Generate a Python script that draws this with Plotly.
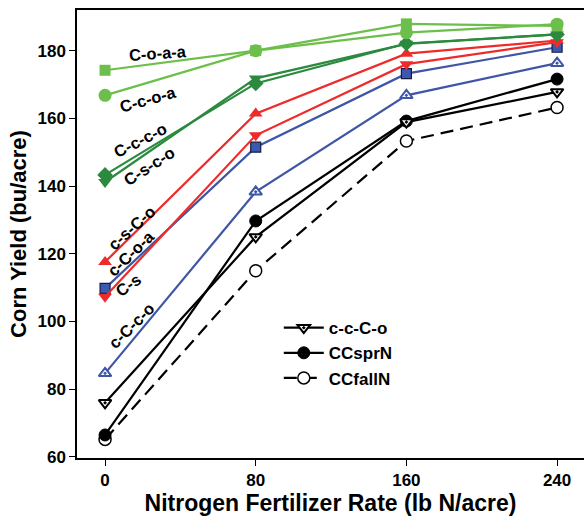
import plotly.graph_objects as go

x_rates = [0, 80, 160, 240]
x_ticks = [0, 80, 160, 240]
y_ticks = [60, 80, 100, 120, 140, 160, 180]

coaa = [174.2, 180.0, 187.9, 187.3]
ccoa = [166.8, 180.0, 185.3, 187.8]
cccco = [143.3, 170.3, 182.1, 184.8]
csco = [141.2, 171.8, 182.0, 184.8]
csCo = [117.6, 161.4, 179.1, 183.0]
cs = [107.3, 155.0, 176.0, 182.5]
cCoa = [109.8, 151.5, 173.2, 181.0]
cCco = [84.7, 138.3, 166.8, 176.3]
ccCo = [76.0, 125.0, 158.9, 167.8]
ccsprn = [66.5, 129.7, 159.2, 171.6]
ccfalln = [65.2, 115.0, 153.3, 163.2]

LG = "#6cbf4a"
DG = "#2b8a3e"
RED = "#ee2b2b"
BLUE = "#3f56a6"
FONT = "Liberation Sans, Arial, sans-serif"

series = [
    ("CCfallN", ccfalln, "black", "dash", dict(symbol="circle", size=12, color="white", line=dict(color="black", width=1.5)), True),
    ("CCsprN", ccsprn, "black", "solid", dict(symbol="circle", size=12, color="black", line=dict(color="black", width=1)), True),
    ("c-c-C-o", ccCo, "black", "solid", dict(symbol="triangle-down-dot", size=11, color="white", line=dict(color="black", width=2)), True),
    ("c-C-c-o", cCco, BLUE, "solid", dict(symbol="triangle-up-dot", size=11, color="white", line=dict(color=BLUE, width=2)), False),
    ("c-C-o-a", cCoa, BLUE, "solid", dict(symbol="square", size=10, color="#3a5ab2", line=dict(color="#1a1a40", width=1.2)), False),
    ("C-s", cs, RED, "solid", dict(symbol="triangle-down", size=12, color=RED), False),
    ("c-s-C-o", csCo, RED, "solid", dict(symbol="triangle-up", size=12, color=RED), False),
    ("C-s-c-o", csco, DG, "solid", dict(symbol="triangle-down", size=12, color=DG), False),
    ("C-c-c-o", cccco, DG, "solid", dict(symbol="diamond", size=12, color=DG), False),
    ("C-c-o-a", ccoa, LG, "solid", dict(symbol="circle", size=13, color=LG), False),
    ("C-o-a-a", coaa, LG, "solid", dict(symbol="square", size=11, color=LG), False),
]

fig = go.Figure()
for name, ys, col, dash, mk, leg in series:
    fig.add_trace(go.Scatter(
        x=x_rates, y=ys, mode="lines+markers", name="<b>" + name + "</b>",
        line=dict(color=col, width=2.2, dash=("13px,7px" if dash == "dash" else "solid")),
        marker=mk, showlegend=leg, cliponaxis=False,
    ))

labels = [
    ("C-o-a-a", 27.9, 179.3, -4),
    ("C-c-o-a", 23.0, 165.8, -16),
    ("C-c-c-o", 18.6, 153.5, -27),
    ("C-s-c-o", 23.4, 145.8, -33),
    ("c-s-C-o", 13.8, 127.7, -42),
    ("c-C-o-a", 13.8, 120.2, -44),
    ("C-s", 12.2, 110.7, -35),
    ("c-C-c-o", 14.3, 98.9, -45),
]
for txt, lx, ly, ang in labels:
    fig.add_annotation(x=lx, y=ly, text="<b>" + txt + "</b>", textangle=ang,
                       showarrow=False, font=dict(size=16.5, color="black", family=FONT))

fig.update_layout(
    width=584, height=520,
    margin=dict(l=77, r=0, t=10, b=62),
    plot_bgcolor="white", paper_bgcolor="white",
    font=dict(family=FONT, color="black"),
    legend=dict(
        x=0.398, y=0.33, xanchor="left", yanchor="top",
        traceorder="reversed", bgcolor="rgba(0,0,0,0)",
        font=dict(size=17, family=FONT),
        tracegroupgap=0, itemwidth=40,
    ),
    xaxis=dict(
        range=[-14.9, 254.3], tickvals=x_ticks,
        ticktext=["<b>%d</b>" % v for v in x_ticks],
        showline=True, linecolor="black", linewidth=1.5, mirror=True,
        ticks="outside", ticklen=6, tickwidth=1.2, tickcolor="black",
        showgrid=False, zeroline=False,
        tickfont=dict(size=17),
        title=dict(text="<b>Nitrogen Fertilizer Rate (lb N/acre)</b>", font=dict(size=23), standoff=3),
    ),
    yaxis=dict(
        range=[59.7, 192.0], tickvals=y_ticks,
        ticktext=["<b>%d</b>" % v for v in y_ticks],
        showline=True, linecolor="black", linewidth=1.5, mirror=False,
        ticks="outside", ticklen=6, tickwidth=1.2, tickcolor="black",
        showgrid=False, zeroline=False,
        tickfont=dict(size=17),
        title=dict(text="<b>Corn Yield (bu/acre)</b>", font=dict(size=22), standoff=5),
    ),
)

fig.write_html("out.html", config={"displayModeBar": False},
               post_script="document.body.style.margin='0';document.body.style.overflow='hidden';")
